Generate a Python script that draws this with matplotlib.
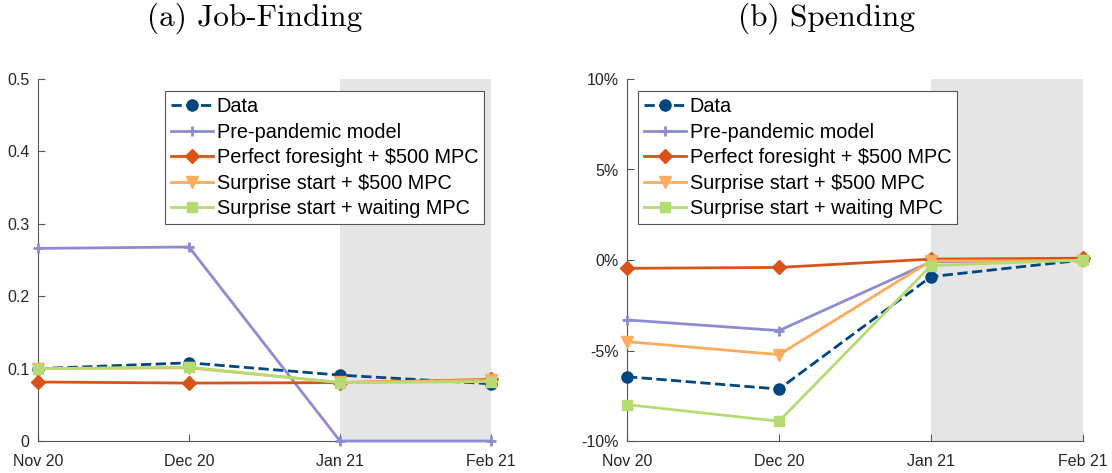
import numpy as np
import matplotlib
matplotlib.use("Agg")
import matplotlib.pyplot as plt
from matplotlib.ticker import FuncFormatter

plt.rcParams['font.family'] = ['Liberation Sans', 'DejaVu Sans']

# --- Data ---
months = ['Nov 20', 'Dec 20', 'Jan 21', 'Feb 21']
labels = ['Data', 'Pre-pandemic model', 'Perfect foresight + \\$500 MPC',
          'Surprise start + \\$500 MPC', 'Surprise start + waiting MPC']

# job-finding rate
jf_data = [0.100, 0.108, 0.091, 0.079]
jf_pre = [0.266, 0.268, 0.0, 0.0]
jf_perfect = [0.0815, 0.080, 0.0806, 0.085]
jf_surprise = [0.100, 0.101, 0.081, 0.084]
jf_waiting = [0.100, 0.102, 0.0806, 0.082]

# spending (percent)
sp_data = [-6.45, -7.13, -0.92, 0.0]
sp_pre = [-3.31, -3.90, -0.10, 0.0]
sp_perfect = [-0.46, -0.41, 0.05, 0.1]
sp_surprise = [-4.51, -5.23, -0.05, -0.04]
sp_waiting = [-7.99, -8.91, -0.31, 0.0]

colors = ['#00467f', '#8f8bd0', '#d95319', '#fdab5c', '#b5dc72']
markers = ['o', '+', 'D', 'v', 's']
msizes = [8, 7, 7, 9, 7]
styles = ['--', '-', '-', '-', '-']
axcol = '#555555'

fig = plt.figure(figsize=(11.12, 4.73), dpi=100)
ax1 = fig.add_axes([38/1112, 1-441/473, 453/1112, 362/473])
ax2 = fig.add_axes([627/1112, 1-441/473, 456/1112, 362/473])

x = np.arange(len(months))


def draw(ax, series, ylim, yticks, fmt=None):
    ax.axvspan(2, 3, color='#e5e5e5', lw=0, zorder=0)
    for i, s in enumerate(series):
        ax.plot(x, s, linestyle=styles[i], color=colors[i], marker=markers[i],
                markersize=msizes[i], markeredgewidth=2 if markers[i] == '+' else 1,
                lw=2, label=labels[i], zorder=3)
    ax.set_xlim(0, 3)
    ax.set_ylim(*ylim)
    ax.set_xticks(x)
    ax.set_xticklabels(months)
    ax.set_yticks(yticks)
    if fmt is not None:
        ax.yaxis.set_major_formatter(FuncFormatter(fmt))
    for side in ['top', 'right']:
        ax.spines[side].set_visible(False)
    for side in ['left', 'bottom']:
        ax.spines[side].set_color(axcol)
        ax.spines[side].set_linewidth(0.8)
    ax.tick_params(direction='in', length=5, color=axcol, labelcolor='#262626',
                   labelsize=11.5)
    ax.tick_params(axis='x', pad=9)
    ax.tick_params(axis='y', pad=6)
    for ln in ax.lines:
        ln.set_clip_on(False)


draw(ax1, [jf_data, jf_pre, jf_perfect, jf_surprise, jf_waiting],
     (0, 0.5), [0, 0.1, 0.2, 0.3, 0.4, 0.5],
     lambda v, p: '0' if v == 0 else f'{v:.1f}')
draw(ax2, [sp_data, sp_pre, sp_perfect, sp_surprise, sp_waiting],
     (-10, 10), [-10, -5, 0, 5, 10],
     lambda v, p: f'{v:.0f}%')

leg_kw = dict(loc='upper left', fontsize=14.3, frameon=True, fancybox=False,
              edgecolor='#555555', framealpha=1, handlelength=2.1,
              handletextpad=0.2, labelspacing=0.33, borderpad=0.3,
              borderaxespad=0)
leg1 = ax1.legend(bbox_to_anchor=((165-38)/453, (441-91)/362), **leg_kw)
leg2 = ax2.legend(bbox_to_anchor=((638-627)/456, (441-91)/362), **leg_kw)
for leg in (leg1, leg2):
    leg.get_frame().set_linewidth(0.8)

fig.text(255/1112, 1-18/473, '(a) Job-Finding', family='cmr10', fontsize=22.5,
         ha='center', va='center')
fig.text(827/1112, 1-18/473, '(b) Spending', family='cmr10', fontsize=22.5,
         ha='center', va='center')

fig.savefig('out.png', dpi=100)
